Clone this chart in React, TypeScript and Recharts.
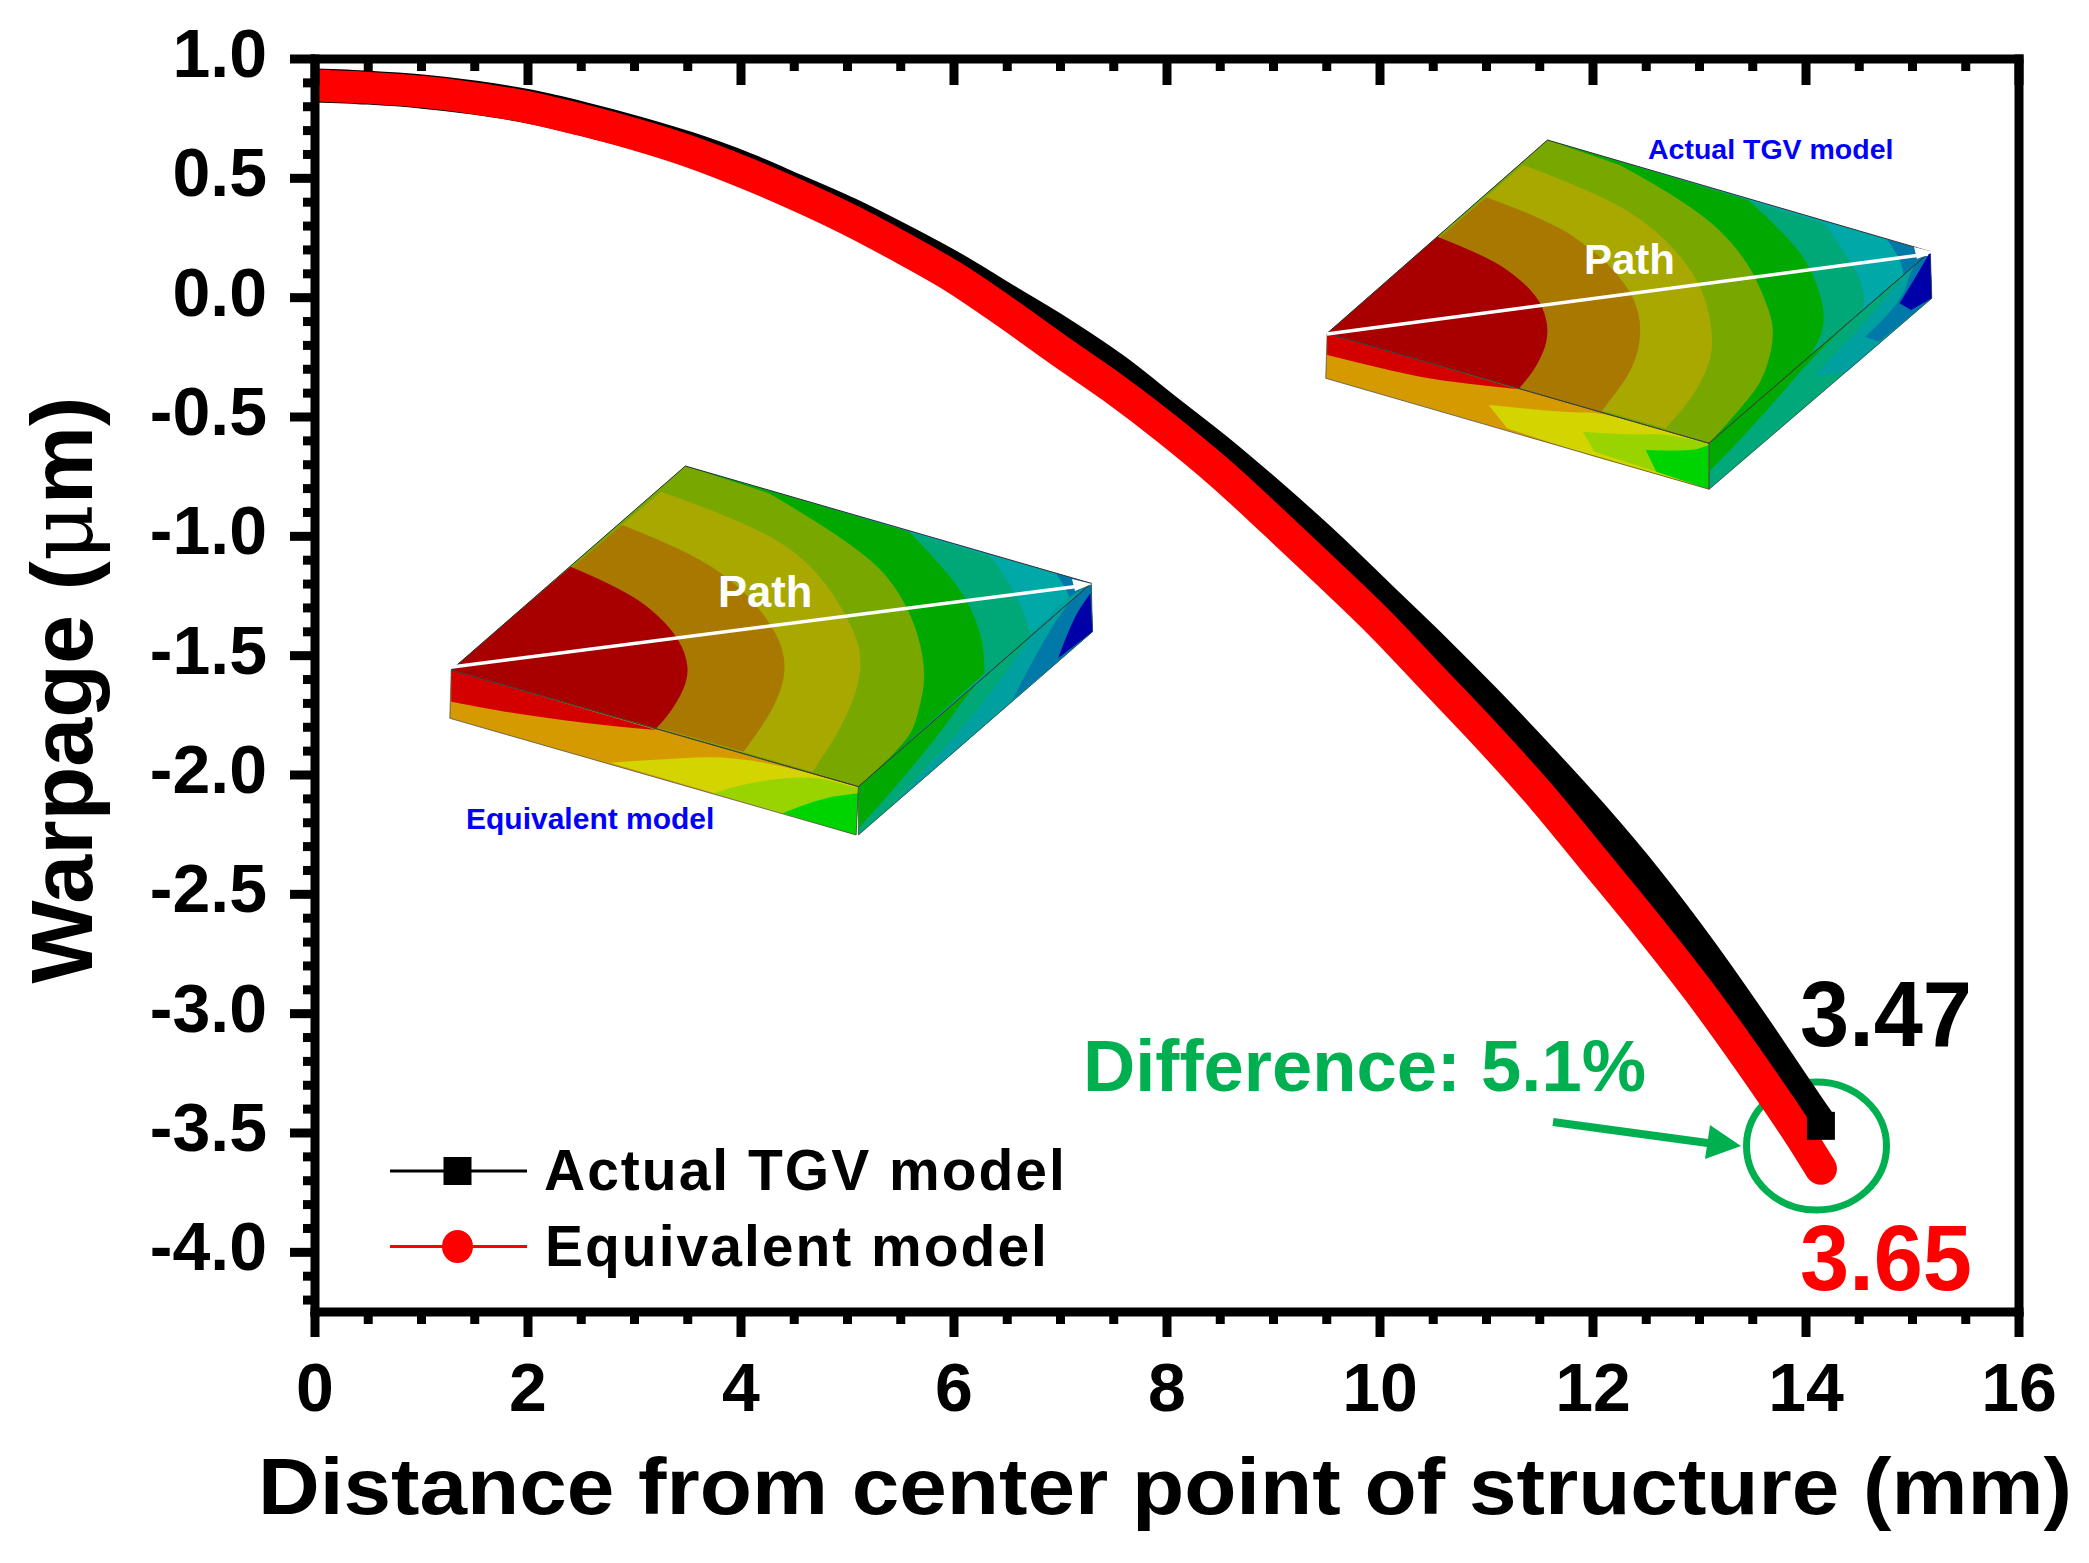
import { LineChart, Line, XAxis, YAxis, Legend } from 'recharts';

const distance = [0, 0.5, 1, 1.5, 2, 2.5, 3, 3.5, 4, 4.5, 5, 5.5, 6, 6.5, 7, 7.5, 8, 8.5, 9, 9.5, 10, 10.5, 11, 11.5, 12, 12.5, 13, 13.5, 14, 14.14];
const actualTgv = [0.889, 0.88, 0.864, 0.838, 0.802, 0.751, 0.692, 0.625, 0.545, 0.45, 0.352, 0.24, 0.12, -0.015, -0.15, -0.3, -0.475, -0.65, -0.84, -1.04, -1.255, -1.47, -1.695, -1.93, -2.175, -2.44, -2.733, -3.05, -3.38, -3.47];
const equivalent = [0.889, 0.879, 0.863, 0.835, 0.798, 0.745, 0.685, 0.615, 0.53, 0.435, 0.33, 0.212, 0.085, -0.066, -0.225, -0.38, -0.55, -0.735, -0.94, -1.15, -1.365, -1.6, -1.835, -2.083, -2.353, -2.625, -2.91, -3.22, -3.55, -3.65];

const xMajor = [0, 2, 4, 6, 8, 10, 12, 14, 16];
const xMinor = [0.5, 1, 1.5, 2.5, 3, 3.5, 4.5, 5, 5.5, 6.5, 7, 7.5, 8.5, 9, 9.5, 10.5, 11, 11.5, 12.5, 13, 13.5, 14.5, 15, 15.5];
const yMajor = [1, 0.5, 0, -0.5, -1, -1.5, -2, -2.5, -3, -3.5, -4];
const yMinor = [0.9, 0.8, 0.7, 0.6, 0.4, 0.3, 0.2, 0.1, -0.1, -0.2, -0.3, -0.4, -0.6, -0.7, -0.8, -0.9, -1.1, -1.2, -1.3, -1.4, -1.6, -1.7, -1.8, -1.9, -2.1, -2.2, -2.3, -2.4, -2.6, -2.7, -2.8, -2.9, -3.1, -3.2, -3.3, -3.4, -3.6, -3.7, -3.8, -3.9, -4.1, -4.2];

const rows = distance.map((x, i) => ({ x, actual: actualTgv[i], equiv: equivalent[i] }));

const FONT = '"Liberation Sans", Arial, sans-serif';
const GREEN = '#00b050';
const TICK_W = 9;

function LeftTick({ x, y, payload }: any) {
  const major = yMajor.includes(payload.value);
  return (
    <g>
      <line x1={x - (major ? 25 : 12)} x2={x} y1={y} y2={y} stroke="#000" strokeWidth={TICK_W} />
      {major && (
        <text x={267} y={y + 18} textAnchor="end" fontFamily={FONT} fontWeight="bold" fontSize={68} fill="#000">
          {payload.value.toFixed(1)}
        </text>
      )}
    </g>
  );
}

function RightTick({ x, y, payload }: any) {
  const major = yMajor.includes(payload.value);
  return <line x1={x - (major ? 26 : 14)} x2={x} y1={y} y2={y} stroke="#000" strokeWidth={TICK_W} />;
}

function BottomTick({ x, y, payload }: any) {
  const major = xMajor.includes(payload.value);
  return (
    <g>
      <line x1={x} x2={x} y1={y} y2={y + (major ? 25 : 12)} stroke="#000" strokeWidth={TICK_W} />
      {major && (
        <text x={x} y={1411} textAnchor="middle" fontFamily={FONT} fontWeight="bold" fontSize={68} fill="#000">
          {payload.value}
        </text>
      )}
    </g>
  );
}

function TopTick({ x, y, payload }: any) {
  const major = xMajor.includes(payload.value);
  return <line x1={x} x2={x} y1={y} y2={y + (major ? 26 : 12)} stroke="#000" strokeWidth={TICK_W} />;
}

const lastIdx = distance.length - 1;

function SquareEnd({ cx, cy, index }: any) {
  if (index !== lastIdx) return <g key={index} />;
  return <rect key={index} x={cx - 14} y={cy - 14} width={28} height={28} fill="#000" />;
}

function CircleEnd({ cx, cy, index }: any) {
  if (index !== lastIdx) return <g key={index} />;
  return <circle key={index} cx={cx} cy={cy} r={16} fill="#ff0000" />;
}

function LegendBox({ payload }: any) {
  return (
    <svg width={720} height={160} style={{ display: 'block' }}>
      {(payload || []).map((p: any, i: number) => {
        const cy = i === 0 ? 41 : 116.5;
        return (
          <g key={p.value}>
            <line x1={10} x2={147} y1={cy} y2={cy} stroke={p.color} strokeWidth={3} />
            {i === 0 ? (
              <rect x={63.5} y={cy - 14} width={28} height={28} fill={p.color} />
            ) : (
              <ellipse cx={77.5} cy={cy} rx={15.5} ry={16.5} fill={p.color} />
            )}
            <text x={i === 0 ? 164 : 165} y={i === 0 ? 60 : 136} fontFamily={FONT} fontWeight="bold" fontSize={57} letterSpacing={2} fill="#000">
              {p.value}
            </text>
          </g>
        );
      })}
    </svg>
  );
}

// rounds a contour through the midpoints of its points, then closes along the straight edges
function contourPath(curve: string, close: string) {
  const pts = curve.split(' ').map((p) => p.split(',').map(Number));
  let d = `M${pts[0][0]},${pts[0][1]}`;
  for (let i = 1; i < pts.length - 1; i++) {
    const mx = (pts[i][0] + pts[i + 1][0]) / 2;
    const my = (pts[i][1] + pts[i + 1][1]) / 2;
    d += ` Q${pts[i][0]},${pts[i][1]} ${mx},${my}`;
  }
  const end = pts[pts.length - 1];
  d += ` L${end[0]},${end[1]}`;
  if (close) d += ' ' + close.split(' ').map((p) => `L${p}`).join(' ');
  return d + ' Z';
}

function Inset({ id, dx, dy, face, right, front, top, rightBands, frontBands }: any) {
  return (
    <g transform={`translate(${dx} ${dy}) scale(0.4591 0.3333)`} filter="url(#soft)">
      <defs>
        <clipPath id={id}>
          <polygon points={face} />
        </clipPath>
      </defs>
      <polygon points={face} fill="#0078a8" />
      <g clipPath={`url(#${id})`}>
        {top.map((b: any) => (
          <path key={b.color} d={contourPath(b.curve, b.close)} fill={b.color} />
        ))}
      </g>
      <polygon points={right} fill="#00a800" />
      {rightBands.map((b: any) => (
        <path key={b.color} d={contourPath(b.curve, b.close)} fill={b.color} />
      ))}
      <polygon points={front} fill="#d49a00" />
      {frontBands.map((b: any) => (
        <path key={b.color} d={contourPath(b.curve, b.close)} fill={b.color} />
      ))}
      <polygon points={face} fill="none" stroke="#333" strokeWidth={1} vectorEffect="non-scaling-stroke" />
      <polygon points={right} fill="none" stroke="#444" strokeWidth={0.7} vectorEffect="non-scaling-stroke" />
      <polygon points={front} fill="none" stroke="#444" strokeWidth={0.7} vectorEffect="non-scaling-stroke" />
    </g>
  );
}

function Annotations() {
  return (
    <g>
      <defs>
        <filter id="soft" x="-5%" y="-5%" width="110%" height="110%">
          <feGaussianBlur stdDeviation="1.2" />
        </filter>
      </defs>

      <Inset
        id="face1"
        dx={1250}
        dy={110}
        face="168,670 648,90 1482,425 1000,1000"
        right="1000,1000 1482,425 1485,565 1000,1138"
        front="168,670 1000,1000 1000,1138 165,805"
        top={[
          { color: '#00a8a8', curve: '1385,385 1415,440 1425,500', close: '1000,1000 168,670 648,90' },
          { color: '#00a878', curve: '1250,340 1320,470 1340,560 1335,600', close: '1000,1000 168,670 648,90' },
          { color: '#00a800', curve: '1085,270 1190,400 1240,530 1255,650 1215,750', close: '1000,1000 168,670 648,90' },
          { color: '#78a800', curve: '805,165 960,280 1075,430 1130,590 1143,680 1120,800 1085,870 1000,1000', close: '168,670 648,90' },
          { color: '#a8a800', curve: '595,165 760,250 890,360 985,520 1010,680 1000,770 960,870 905,955', close: '168,670' },
          { color: '#a87800', curve: '515,262 650,330 760,430 835,550 855,660 835,780 765,905', close: '168,670' },
          { color: '#a80000', curve: '408,380 520,440 600,520 640,590 652,680 625,770 585,838', close: '168,670' },
        ]}
        rightBands={[
          { color: '#00a87a', curve: '1000,1085 1090,960 1250,700 1482,425', close: '1485,565 1000,1138' },
          { color: '#00a0a0', curve: '1228,800 1340,640 1420,500 1482,425', close: '1485,565 1300,785' },
          { color: '#0078a8', curve: '1340,680 1420,580 1440,470 1482,425', close: '1485,565 1370,695' },
          { color: '#0000a8', curve: '1415,580 1440,600', close: '1485,565 1482,425 1450,500' },
        ]}
        frontBands={[
          { color: '#d40000', curve: '585,838 420,815 300,780 168,735', close: '168,670' },
          { color: '#d4d400', curve: '520,885 700,910 765,905 1000,1000', close: '1000,1138 750,1040 560,955' },
          { color: '#99d400', curve: '725,965 830,975 900,970 1000,1000', close: '1000,1138 885,1085 750,1025' },
          { color: '#00d400', curve: '862,1020 960,1025 1000,1005', close: '1000,1138 885,1085' },
        ]}
      />
      <line x1={1327} y1={334} x2={1928} y2={254} stroke="#fff" strokeWidth={3.5} />
      <polygon points="1934,252 1914,247 1917,259" fill="#fff" />
      <text x={1584} y={274} fontFamily={FONT} fontWeight="bold" fontSize={42} fill="#fff">Path</text>
      <text x={1648} y={159} fontFamily={FONT} fontWeight="bold" fontSize={28.5} fill="#0000ff">Actual TGV model</text>

      <Inset
        id="face2"
        dx={420}
        dy={440}
        face="68,690 578,78 1462,430 955,1040"
        right="955,1040 1462,430 1465,575 955,1185"
        front="68,690 955,1040 950,1185 65,835"
        top={[
          { color: '#00a8a8', curve: '1385,400 1410,450 1415,485', close: '955,1040 68,690 578,78' },
          { color: '#00a878', curve: '1245,350 1300,460 1330,580', close: '955,1040 68,690 578,78' },
          { color: '#00a800', curve: '1065,275 1170,420 1225,580 1230,700', close: '955,1040 68,690 578,78' },
          { color: '#78a800', curve: '760,160 960,320 1060,480 1105,680 1085,830 1060,905 955,1040', close: '68,690 578,78' },
          { color: '#a8a800', curve: '525,155 700,240 850,360 950,570 965,700 920,860 855,995', close: '68,690' },
          { color: '#a87800', curve: '440,255 580,330 700,440 780,580 800,690 770,810 705,935', close: '68,690' },
          { color: '#a80000', curve: '328,380 450,450 540,550 580,640 585,720 550,810 515,865', close: '68,690' },
        ]}
        rightBands={[
          { color: '#00a878', curve: '955,1165 1090,960 1225,700 1330,580 1462,430', close: '1465,575 955,1185' },
          { color: '#00a0a0', curve: '1020,1108 1180,870 1270,710 1370,510 1462,430', close: '1465,575' },
          { color: '#0078a8', curve: '1290,780 1350,620 1415,480 1462,430', close: '1465,575' },
          { color: '#0000a8', curve: '1390,655 1420,540 1460,460', close: '1465,575' },
        ]}
        frontBands={[
          { color: '#d40000', curve: '515,870 420,860 200,820 68,785', close: '68,690' },
          { color: '#d4d400', curve: '415,968 500,960 700,945 955,1040', close: '950,1185' },
          { color: '#99d400', curve: '640,1060 700,1030 850,1005 955,1045', close: '950,1185' },
          { color: '#00d400', curve: '790,1120 870,1075 955,1060', close: '950,1185' },
        ]}
      />
      <line x1={452} y1={667} x2={1080} y2={586} stroke="#fff" strokeWidth={3.5} />
      <polygon points="1092,584 1072,579 1075,591" fill="#fff" />
      <text x={718} y={607} fontFamily={FONT} fontWeight="bold" fontSize={43.5} fill="#fff">Path</text>
      <text x={466} y={829} fontFamily={FONT} fontWeight="bold" fontSize={30} fill="#0000ff">Equivalent model</text>

      <text x={92} y={690} transform="rotate(-90 92 690)" textAnchor="middle" fontFamily={FONT} fontWeight="bold" fontSize={88} fill="#000">
        Warpage (<tspan fontFamily="'DejaVu Serif', serif" fontWeight="normal">μ</tspan>m)
      </text>
      <text x={258} y={1514} textLength={1814} lengthAdjust="spacingAndGlyphs" fontFamily={FONT} fontWeight="bold" fontSize={80} fill="#000">
        Distance from center point of structure (mm)
      </text>

      <text x={1800} y={1046} textLength={172} lengthAdjust="spacingAndGlyphs" fontFamily={FONT} fontWeight="bold" fontSize={93} fill="#000">3.47</text>
      <text x={1800} y={1290} textLength={172} lengthAdjust="spacingAndGlyphs" fontFamily={FONT} fontWeight="bold" fontSize={93} fill="#ff0000">3.65</text>
      <text x={1083} y={1091} textLength={563} lengthAdjust="spacingAndGlyphs" fontFamily={FONT} fontWeight="bold" fontSize={72} fill={GREEN}>
        Difference: 5.1%
      </text>

      <ellipse cx={1816.5} cy={1146} rx={70} ry={64} fill="none" stroke={GREEN} strokeWidth={7} />
      <line x1={1553} y1={1122} x2={1715} y2={1144} stroke={GREEN} strokeWidth={8} />
      <polygon points="1741,1146 1710,1125 1705,1159" fill={GREEN} />
    </g>
  );
}

export default function App() {
  const axisLine = { stroke: '#000', strokeWidth: 9, strokeLinecap: 'square' as const };
  return (
    <div style={{ position: 'absolute', left: 0, top: 0, width: 2089, height: 1563, background: '#fff' }}>
      <LineChart width={2089} height={1563} data={rows} margin={{ top: 58, right: 69, bottom: 0, left: 0 }}>
        <XAxis
          xAxisId="bottom"
          type="number"
          dataKey="x"
          domain={[0, 16]}
          ticks={[...xMajor, ...xMinor]}
          interval={0}
          height={251}
          tickSize={0}
          tickMargin={0}
          axisLine={axisLine}
          tickLine={false}
          tick={BottomTick}
        />
        <XAxis
          xAxisId="top"
          orientation="top"
          type="number"
          dataKey="x"
          domain={[0, 16]}
          ticks={[...xMajor, ...xMinor]}
          interval={0}
          height={1}
          tickSize={0}
          tickMargin={0}
          axisLine={axisLine}
          tickLine={false}
          tick={TopTick}
        />
        <YAxis
          yAxisId="left"
          type="number"
          domain={[-4.25, 1]}
          ticks={[...yMajor, ...yMinor]}
          interval={0}
          width={315}
          tickSize={0}
          tickMargin={0}
          axisLine={axisLine}
          tickLine={false}
          tick={LeftTick}
        />
        <YAxis
          yAxisId="right"
          orientation="right"
          type="number"
          domain={[-4.25, 1]}
          ticks={[...yMajor, ...yMinor]}
          interval={0}
          width={1}
          tickSize={0}
          tickMargin={0}
          axisLine={axisLine}
          tickLine={false}
          tick={RightTick}
        />
        <Legend
          layout="vertical"
          align="center"
          verticalAlign="middle"
          wrapperStyle={{ left: 380, top: 1130, width: 720, height: 160, right: 'auto', bottom: 'auto' }}
          content={LegendBox}
        />
        <Line
          xAxisId="bottom"
          yAxisId="left"
          name="Actual TGV model"
          dataKey="actual"
          type="monotone"
          stroke="#000000"
          strokeWidth={34}
          dot={SquareEnd}
          activeDot={false}
          isAnimationActive={false}
        />
        <Line
          xAxisId="bottom"
          yAxisId="left"
          name="Equivalent model"
          dataKey="equiv"
          type="monotone"
          stroke="#ff0000"
          strokeWidth={32}
          dot={CircleEnd}
          activeDot={false}
          isAnimationActive={false}
        />
        <Annotations />
      </LineChart>
    </div>
  );
}
